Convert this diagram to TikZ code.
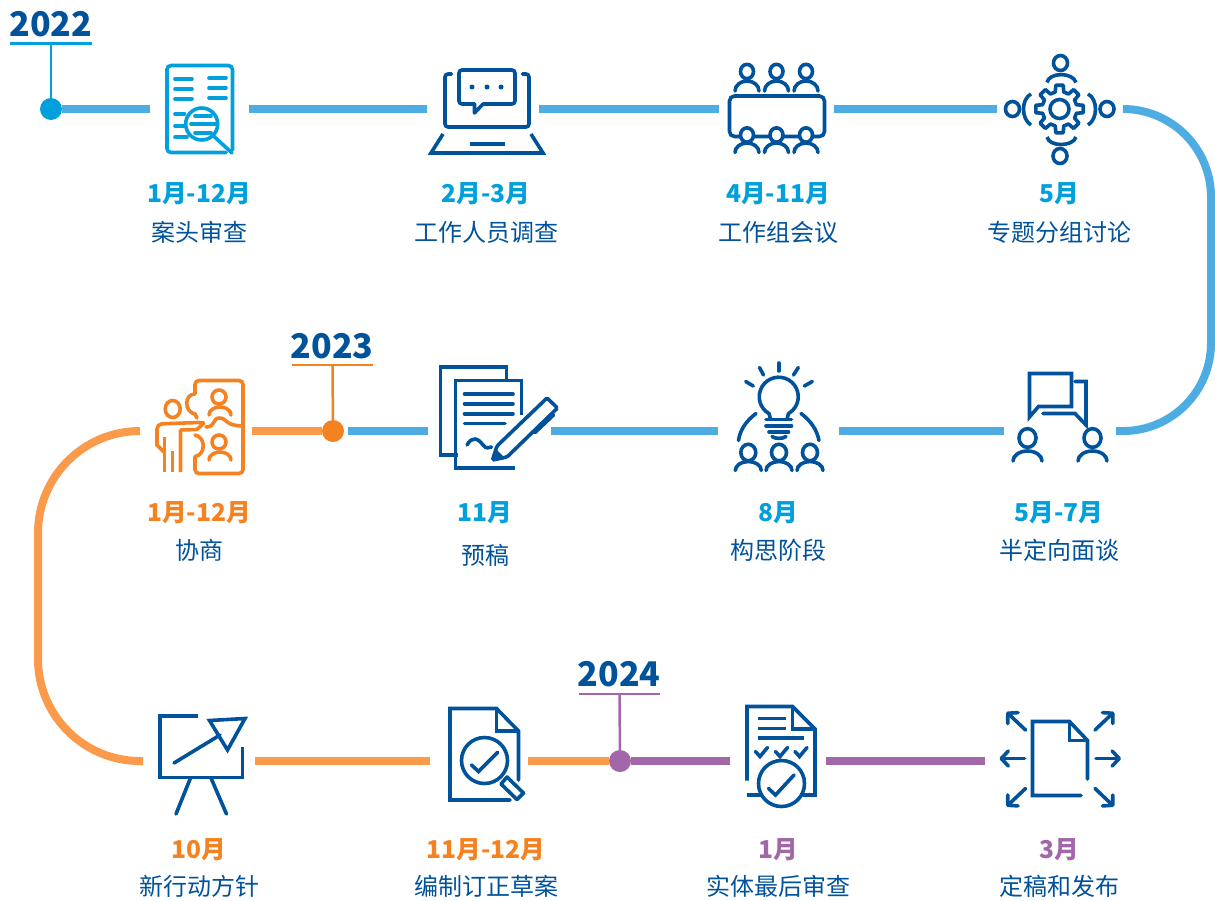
\documentclass[tikz,border=0pt]{standalone}
\usepackage{fontspec}
\setmainfont{Noto Sans CJK SC}
\usepackage{xcolor}
\usetikzlibrary{arrows.meta}
\definecolor{navy}{HTML}{00529B}
\definecolor{sky}{HTML}{00A0DC}
\definecolor{skytrack}{HTML}{4DADE2}
\definecolor{amber}{HTML}{F58220}
\definecolor{ambertrack}{HTML}{FB9A4B}
\definecolor{plum}{HTML}{A267A9}
\tikzstyle{track}=[line width=8pt]
\tikzstyle{gapbox}=[minimum height=8pt, inner sep=0pt, outer sep=0pt]
\tikzstyle{yeardot}=[circle, minimum size=22pt, inner sep=0pt, outer sep=0pt]
\tikzstyle{yearlabel}=[font=\fontsize{34}{38}\selectfont\bfseries, text=navy]
\tikzstyle{datelabel}=[font=\fontsize{24.6}{28}\selectfont\bfseries]
\tikzstyle{namelabel}=[font=\fontsize{24}{28}\selectfont, text=navy]
\tikzstyle{iconline}=[line width=3.6pt, draw=navy, line cap=round]
\tikzstyle{sendarrow}=[iconline, -{Straight Barb[length=7pt, width=15pt, round]}]
% head and shoulders: x, head y, head radius, shoulder y, shoulder radius, shoulder height
\newcommand{\personmark}[6]{
    \draw[iconline, fill=white] (#1,#2) ellipse ({#3pt} and {1.1*#3pt});
    \draw[iconline] ({#1-#5},#4) arc (180:0:{#5pt} and {#6pt});
}
\begin{document}
\begin{tikzpicture}[x=1pt,y=-1pt]
\useasboundingbox (0,0) rectangle (1215,900);

% gaps left in the line for the icons
\node[gapbox, minimum width=99pt] (audit) at (199.5,109) {};
\node[gapbox, minimum width=112pt] (survey) at (483,109) {};
\node[gapbox, minimum width=115pt] (meeting) at (776.5,109) {};
\node[gapbox, minimum width=126pt] (group) at (1060,109) {};
\node[gapbox, minimum width=112pt] (interview) at (1060,431) {};
\node[gapbox, minimum width=121pt] (concept) at (778.5,431) {};
\node[gapbox, minimum width=123pt] (draft) at (489.5,431) {};
\node[gapbox, minimum width=112pt] (consult) at (196,431) {};
\node[gapbox, minimum width=112pt] (policy) at (199,761) {};
\node[gapbox, minimum width=98pt] (revise) at (479,761) {};
\node[gapbox, minimum width=96pt] (review) at (778,761) {};
\node[gapbox, minimum width=148pt] (publish) at (1059,761) {};

% years
\node[yeardot, fill=sky] (dotA) at (51,109) {};
\node[yeardot, fill=amber] (dotB) at (333,431) {};
\node[yeardot, fill=plum] (dotC) at (620,761) {};
\coordinate (barA) at (51,43.5);
\coordinate (barB) at (332.5,365);
\coordinate (barC) at (619.5,694);
\coordinate (skyend) at (348,431);
\node[yearlabel] (yearA) at (51,24) {2022};
\node[yearlabel] (yearB) at (332,346) {2023};
\node[yearlabel] (yearC) at (619,674) {2024};
\draw[sky, line width=2.5pt] (dotA) -- (barA);
\draw[sky, line width=2.5pt] (10,43.5) -- (91.5,43.5);
\draw[amber, line width=2.5pt] (dotB) -- (barB);
\draw[amber, line width=2.5pt] (291.5,365) -- (373,365);
\draw[plum, line width=2.5pt] (dotC) -- (barC);
\draw[plum, line width=2.5pt] (579,694) -- (660,694);

% line
\draw[track, skytrack] (dotA) -- (audit.west);
\draw[track, skytrack] (audit.east) -- (survey.west);
\draw[track, skytrack] (survey.east) -- (meeting.west);
\draw[track, skytrack] (meeting.east) -- (group.west);
\draw[track, skytrack] (group.east) arc (90:0:88pt) -- (1211,343) arc (0:-90:88pt) -- (interview.east);
\draw[track, skytrack] (interview.west) -- (concept.east);
\draw[track, skytrack] (concept.west) -- (draft.east);
\draw[track, skytrack] (draft.west) -- (skyend);
\draw[track, ambertrack] (dotB) -- (consult.east);
\draw[track, ambertrack] (consult.west) -- (140,431) arc (90:180:102pt) -- (38,659) arc (180:270:102pt) -- (policy.west);
\draw[track, ambertrack] (policy.east) -- (revise.west);
\draw[track, ambertrack] (revise.east) -- (dotC);
\draw[track, plum] (dotC) -- (review.west);
\draw[track, plum] (review.east) -- (publish.west);

% labels
\foreach \id/\x/\yd/\yn/\tone/\dt/\nm in {
    a/199/194/232/sky/1月-12月/案头审查, b/486/194/232/sky/2月-3月/工作人员调查,
    c/778/194/232/sky/4月-11月/工作组会议, d/1059/194/232/sky/5月/专题分组讨论,
    e/1059/513/550/sky/5月-7月/半定向面谈, f/778/513/550/sky/8月/构思阶段,
    g/485/513/555/sky/11月/预稿, h/199/513/550/amber/1月-12月/协商,
    i/199/850/886/amber/10月/新行动方针, j/486/850/886/amber/11月-12月/编制订正草案,
    k/778/850/886/plum/1月/实体最后审查, l/1059/850/886/plum/3月/定稿和发布}
{
    \node[datelabel, text=\tone] (date\id) at (\x,\yd) {\dt};
    \node[namelabel] (name\id) at (\x+0.5,\yn) {\nm};
}

% desk review
\begin{scope}[every path/.style={iconline, draw=sky}]
\draw[rounded corners=4pt] (226,152.5) -- (167,152.5) -- (167,65.5) -- (232.5,65.5) -- (232.5,150);
\foreach \y in {79,89,99} \draw (175,\y) -- (192,\y);
\foreach \y in {78,88,98} \draw (209,\y) -- (226,\y);
\foreach \y/\r in {114/184.5,126/184.5,137/187} \draw (175,\y) -- (\r,\y);
\draw[fill=white] (201.7,124) circle (16pt);
\draw (213.5,136) -- (232,153);
\foreach \y/\l/\r in {116/195/211,124/191/217,133/195/211} \draw (\l,\y) -- (\r,\y);
\end{scope}

% laptop
\draw[iconline, rounded corners=3pt] (451.5,74) -- (445,74) -- (445,127) -- (529,127) -- (529,74) -- (522.5,74);
\draw[iconline, rounded corners=3pt] (474.5,104) -- (459,104) -- (459,70) -- (515,70) -- (515,104) -- (483,104);
\draw[iconline, line join=round] (483,104) -- (474.5,113) -- (474.5,104);
\foreach \x in {472,487,501} \fill[navy] (\x,87) circle (2.5pt);
\draw[iconline, line cap=butt] (443,134) -- (431,153) -- (543,153) -- (531,134);
\draw[iconline, line cap=butt] (469.5,144) -- (505,144);

% table
\draw[iconline, rounded corners=5pt] (729.5,96) rectangle (824.5,136.5);
\foreach \x in {747,776.5,806} {
    \personmark{\x}{71.5}{6.5}{91}{12}{10}
    \personmark{\x}{135}{6.5}{152.5}{12}{9.5}
}

% gear
\draw[iconline, line join=round, shift={(1059.5,109)}] (-14:17.5) \foreach \a in {0,45,...,315} { -- ({\a-14}:17.5) -- ({\a-9}:24) -- ({\a+9}:24) -- ({\a+14}:17.5) } -- cycle;
\draw[iconline] (1059.5,109) circle (9.5pt);
\draw[iconline] (1060.5,63) ellipse (7pt and 7.5pt);
\draw[iconline] (1060,156) ellipse (7pt and 7.5pt);
\draw[iconline] (1012.5,109) ellipse (7pt and 7.5pt);
\draw[iconline] (1107,109) ellipse (7pt and 7.5pt);
\draw[iconline, line cap=butt] (1047,82.5) .. controls (1049,72) and (1073,72) .. (1076,82.5);
\draw[iconline, line cap=butt] (1047,137) .. controls (1049,147) and (1073,147) .. (1076,137);
\draw[iconline, line cap=butt] (1031,94) .. controls (1021,99) and (1021,119) .. (1031,125);
\draw[iconline, line cap=butt] (1088,94) .. controls (1098,99) and (1098,119) .. (1088,125);

% chat
\draw[iconline, line join=miter] (1029.5,373.5) -- (1071.5,373.5) -- (1071.5,406.5) -- (1038.5,406.5) -- (1029.5,417) -- cycle;
\draw[iconline] (1075,381.5) -- (1086,381.5) -- (1086,425) -- (1075,413.5) -- (1043,413.5);
\personmark{1027.5}{438}{8.5}{461}{14.5}{10}
\personmark{1092.5}{438}{8.5}{461}{14.5}{10}

% bulb
\draw[iconline] (770.5,419) -- (769,413.6) arc (240:-60:19.5pt) -- (787,419);
\draw[iconline] (766,419.5) -- (791.5,419.5);
\draw[iconline] (766,426) -- (791.5,426);
\draw[iconline] (769,432) -- (788.5,432);
\draw[iconline] (772,436.5) .. controls (775,439) and (783,439) .. (786,436.5);
\foreach \a/\b/\c/\d in {778.7/363/778.7/371,759.5/367.5/763.5/375,798.3/367.5/793.5/375,745.7/381.5/753.3/386,812.3/381.5/804.3/386}
    \draw[iconline] (\a,\b) -- (\c,\d);
\draw[iconline] (738.5,440.5) .. controls (740,430) and (746,421) .. (756,413.5);
\draw[iconline] (819,440.5) .. controls (817,430) and (811,421) .. (801,413.5);
\foreach \x in {748.3,779,810} {\personmark{\x}{452.5}{7.5}{470.5}{13}{9}}

% papers and pen
\draw[iconline, line cap=butt] (506.5,381) -- (506.5,367) -- (440.5,367) -- (440.5,455) -- (458,455);
\draw[iconline, line cap=butt] (521.5,415) -- (521.5,380.5) -- (455.5,380.5) -- (455.5,468) -- (515,468);
\foreach \y/\r in {394/513,403.7/513,413.7/513,423.3/505} \draw[iconline] (464.5,\y) -- (\r,\y);
\draw[iconline] (467,445) .. controls (472,436) and (478,438) .. (483,445) .. controls (486,449) and (489,448) .. (491.5,447);
\draw[iconline, rounded corners=1.5pt] (492.5,460) -- (497,446) -- (547,398) -- (557.5,408) -- (507,457) -- cycle;
\fill[navy] (492.5,460) -- (496,449) -- (503,456) -- cycle;
\draw[iconline] (535,432.5) -- (553.5,415);

% consult
\begin{scope}[every path/.style={iconline, draw=amber}]
\draw[rounded corners=4pt, line cap=butt] (195,394) -- (195,380.5) -- (243,380.5) -- (243,473.5) -- (195,473.5) -- (195,456.5);
\draw (195,394) .. controls (184,394) and (184,412) .. (195,414) -- (197,418);
\draw (195,435) .. controls (206,437) and (206,455) .. (195,456.5);
\draw (206,427) .. controls (216,427) and (212,418) .. (219.5,418) .. controls (227,418) and (225,426) .. (243,426);
\draw (172.7,409) ellipse (7.5pt and 8.5pt);
\draw[rounded corners=5pt, line cap=butt] (157,446) -- (157,424) -- (198,422.5);
\draw[rounded corners=1pt, line cap=butt] (198,422.5) -- (204,423) -- (197,429.5) -- (180.5,430) -- (180.5,472);
\draw[line cap=butt] (157,445) -- (164,452);
\draw[line cap=butt] (164.3,437) -- (164.3,472);
\draw[line cap=butt] (172.3,451) -- (172.3,472);
\draw (219,397) circle (7pt);
\draw (209,415) arc (180:0:11pt and 8pt);
\draw (219,442) circle (7pt);
\draw (209,460) arc (180:0:11pt and 8pt);
\end{scope}

% board
\draw[iconline, line cap=butt] (197.5,716) -- (160,716) -- (160,777.5) -- (242.5,777.5) -- (242.5,747);
\draw[iconline] (174,763) -- (220,735);
\draw[iconline] (209.5,720.5) -- (245,718.5) -- (227.5,750) -- cycle;
\draw[iconline] (190.5,778) -- (176,814);
\draw[iconline] (211,778) -- (226.5,814);

% revised file
\draw[iconline] (510,800) -- (450,800) -- (450,708.5) -- (496.5,708.5) -- (518.5,731) -- (518.5,780);
\draw[iconline, line cap=butt] (496.5,708.5) -- (496.5,731) -- (518.5,731);
\draw[iconline, fill=white, line join=round] (507,777) -- (523.5,793) -- (517,799.5) -- (501,784) -- cycle;
\draw[iconline, fill=white] (484.5,760.5) circle (23pt);
\draw[iconline] (471.5,765) -- (478.5,771.5) -- (497.5,752.5);

% reviewed file
\draw[iconline, line cap=butt] (747,780.5) -- (747,706.5) -- (792.5,706.5) -- (815,729) -- (815,795) -- (802.5,795);
\draw[iconline, line cap=butt] (747,795) -- (761.5,795);
\draw[iconline, line cap=butt] (792.5,706.5) -- (792.5,729) -- (815,729);
\draw[iconline, line cap=butt] (757.5,718.5) -- (786,718.5);
\draw[iconline, line cap=butt] (757.5,728.5) -- (786,728.5);
\draw[iconline, line cap=butt] (757.5,738) -- (804,738);
\foreach \x in {761.5,781.5,801} \draw[iconline] (\x-6,751.5) -- (\x-1.5,756.5) -- (\x+6,747.5);
\draw[iconline, fill=white] (781.5,783.5) circle (23pt);
\draw[iconline] (768.5,788.5) -- (775.5,795) -- (794,775);

% published file
\draw[iconline] (1081,795.5) -- (1032.5,795.5) -- (1032.5,721.5) -- (1069.5,721.5) -- (1087.5,740.5) -- (1087.5,779);
\draw[iconline, line cap=butt] (1069.5,721.5) -- (1069.5,740.5) -- (1087.5,740.5);
\draw[sendarrow] (1024.5,758.5) -- (999.5,758.5);
\draw[sendarrow] (1096,758.5) -- (1121,758.5);
\draw[sendarrow] (1025.5,730) -- (1006.5,712);
\draw[sendarrow] (1095,730) -- (1114,712);
\draw[sendarrow] (1025.5,788.5) -- (1006.5,806.5);
\draw[sendarrow] (1095,788.5) -- (1114,806.5);

\end{tikzpicture}
\end{document}
